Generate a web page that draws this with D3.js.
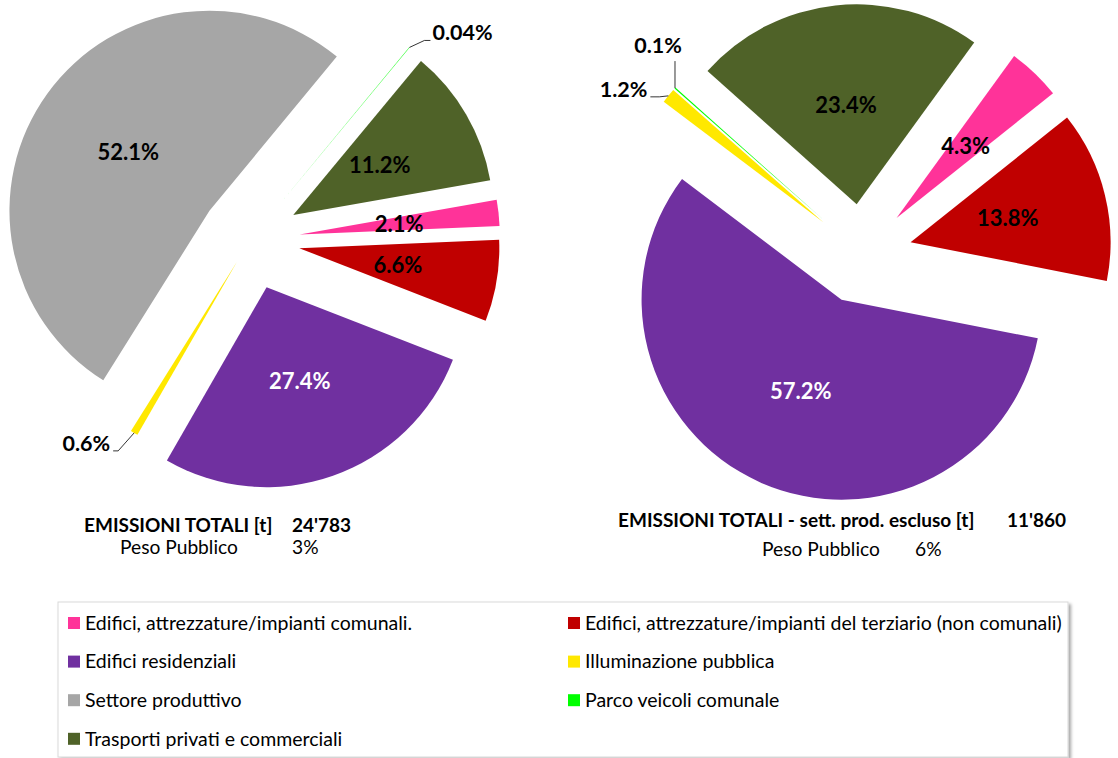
<!DOCTYPE html>
<html>
<head>
<meta charset="utf-8">
<script src="https://cdn.jsdelivr.net/npm/d3@7"></script>
<style>
  body { margin: 0; background: #fff; }
  text { font-family: Lato, "Open Sans", sans-serif; }
</style>
</head>
<body>
<svg id="chart" width="1118" height="758"></svg>
<script>
// categories, legend order = slice order
var categories = [
  "Edifici, attrezzature/impianti comunali.",
  "Edifici, attrezzature/impianti del terziario (non comunali)",
  "Edifici residenziali",
  "Illuminazione pubblica",
  "Settore produttivo",
  "Parco veicoli comunale",
  "Trasporti privati e commerciali"
];
var colors = ["#FF3399", "#C00000", "#7030A0", "#FFE800", "#A6A6A6", "#00FF00", "#4F6228"];

// shares in % (left: total, right: productive sector excluded)
var totalShares  = [2.1, 6.6, 27.4, 0.6, 52.1, 0.04, 11.2];
var noProdShares = [4.3, 13.8, 57.2, 1.2, 0, 0.1, 23.4];

// texts under the pies
var titles       = ["EMISSIONI TOTALI [t]", "EMISSIONI TOTALI - sett. prod. escluso [t]"];
var totals       = ["24'783", "11'860"];
var pesoLabel    = "Peso Pubblico";
var pesoPubblico = ["3%", "6%"];


var svg = d3.select("#chart");
var R = 200;

var fmt = function(v) {
    return (v < 0.1 ? d3.format(".2f")(v) : d3.format(".1f")(v)) + "%";
};

// pie setup: centre, rotation of first slice (deg), explosion per slice (px),
// slices whose label sits outside with a leader line
var pies = [
    { values: totalShares, cx: 250, cy: 240, start: 80,
      explode: [50, 50, 50, 25, 50, 50, 50],
      outside: { 3: { dx: -24, dy: 18, anchor: "end" },
                 5: { dx: 23, dy: -7, anchor: "start" } } },
    { values: noProdShares, cx: 862, cy: 254, start: 36,
      explode: [50, 50, 50, 50, 50, 50, 50],
      outside: { 3: { dx: -21, dy: 1, anchor: "end", elbow: 12 },
                 5: { dx: -17, dy: -35, anchor: "middle", vertical: true } } }
];

var arc = d3.arc().innerRadius(0).outerRadius(R);

pies.forEach(function(p) {
    var pie = d3.pie().sort(null)
        .startAngle(p.start * Math.PI / 180)
        .endAngle(p.start * Math.PI / 180 + 2 * Math.PI);

    var slices = pie(p.values).filter(function(d) { return d.value > 0; });

    var g = svg.append("g").attr("transform", "translate(" + p.cx + "," + p.cy + ")");

    var sg = g.selectAll("g.slice")
        .data(slices)
        .enter()
        .append("g")
        .attr("class", "slice")
        .attr("transform", function(d) {
            var mid = (d.startAngle + d.endAngle) / 2;
            var e = p.explode[d.index];
            return "translate(" + (e * Math.sin(mid)) + "," + (-e * Math.cos(mid)) + ")";
        });

    sg.append("path")
        .attr("d", arc)
        .attr("fill", function(d) { return colors[d.index]; });

    // inside labels
    sg.filter(function(d) { return !p.outside[d.index]; })
        .append("text")
        .attr("transform", function(d) { return "translate(" + arc.centroid(d) + ")"; })
        .attr("text-anchor", "middle")
        .attr("dy", "0.36em")
        .attr("font-size", 22)
        .attr("font-weight", "bold")
        .attr("fill", function(d) { return d.index === 2 ? "#fff" : "#000"; })
        .text(function(d) { return fmt(d.value); });

    // outside labels with leader line
    sg.filter(function(d) { return p.outside[d.index]; })
        .each(function(d) {
            var o = p.outside[d.index];
            var mid = (d.startAngle + d.endAngle) / 2;
            var ox = R * Math.sin(mid), oy = -R * Math.cos(mid);
            var lx = ox + o.dx, ly = oy + o.dy;
            var pts;
            if (o.vertical) {
                pts = [[ox, oy], [ox, ly + 8]];
            } else if (o.anchor === "end") {
                pts = [[ox, oy], [lx + (o.elbow || 8), ly], [lx + 3, ly]];
            } else {
                pts = [[ox, oy], [lx - 8, ly], [lx - 2, ly]];
            }
            d3.select(this).append("path")
                .attr("d", d3.line()(pts))
                .attr("fill", "none")
                .attr("stroke", "#000")
                .attr("stroke-width", 0.8);
            d3.select(this).append("text")
                .attr("x", lx)
                .attr("y", ly)
                .attr("text-anchor", o.anchor)
                .attr("font-size", 21.5)
                .attr("font-weight", "bold")
                .attr("fill", "#000")
                .text(fmt(d.value));
        });
});

// totals under the pies
var info = [
    { tx: 84, vx: 292, ty: 532, px: 120, py: 554 },
    { tx: 618, vx: 1007, ty: 527, px: 762, pvx: 915, py: 556 }
];
info.forEach(function(b, i) {
    svg.append("text").attr("x", b.tx).attr("y", b.ty)
        .attr("font-size", 19).attr("font-weight", "bold").text(titles[i]);
    svg.append("text").attr("x", b.vx).attr("y", b.ty)
        .attr("font-size", 19).attr("font-weight", "bold").text(totals[i]);
    svg.append("text").attr("x", b.px).attr("y", b.py)
        .attr("font-size", 19.2).text(pesoLabel);
    svg.append("text").attr("x", b.pvx || b.vx).attr("y", b.py)
        .attr("font-size", 19.2).text(pesoPubblico[i]);
});

// legend
var defs = svg.append("defs");
defs.append("filter").attr("id", "shadow")
    .attr("x", "-5%").attr("y", "-5%").attr("width", "110%").attr("height", "120%")
    .append("feDropShadow")
    .attr("dx", 2.5).attr("dy", 2.5).attr("stdDeviation", 1.5)
    .attr("flood-color", "#000").attr("flood-opacity", 0.35);

svg.append("rect")
    .attr("x", 58).attr("y", 602)
    .attr("width", 1010).attr("height", 155)
    .attr("fill", "#fff")
    .attr("stroke", "#D9D9D9")
    .attr("filter", "url(#shadow)");

var legend = svg.selectAll("g.legend")
    .data(categories)
    .enter()
    .append("g")
    .attr("class", "legend")
    .attr("transform", function(d, i) {
        return "translate(" + (68 + (i % 2) * 500) + "," + (623 + Math.floor(i / 2) * 38.6) + ")";
    });

legend.append("rect")
    .attr("x", 0).attr("y", -6)
    .attr("width", 12).attr("height", 12)
    .attr("fill", function(d, i) { return colors[i]; });

legend.append("text")
    .attr("x", 17)
    .attr("dy", "0.35em")
    .attr("font-size", 19.5)
    .attr("fill", "#000")
    .text(function(d) { return d; });
</script>
</body>
</html>
